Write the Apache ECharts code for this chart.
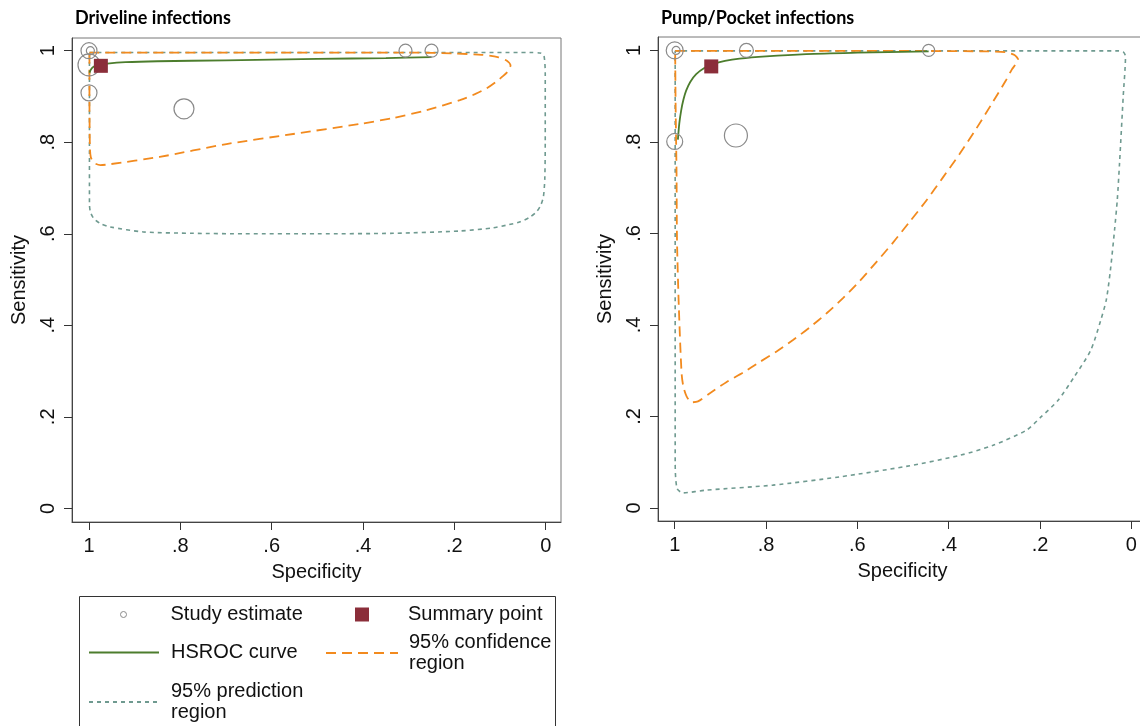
<!DOCTYPE html>
<html>
<head>
<meta charset="utf-8">
<script src="https://cdn.jsdelivr.net/npm/echarts@6/dist/echarts.min.js"></script>
<style>
html,body{margin:0;padding:0;background:#fff;}
#chart{width:1140px;height:726px;}
</style>
</head>
<body>
<div id="chart"></div>
<script>
// ---------- data ----------
const panelTitles = ['Driveline infections', 'Pump/Pocket infections'];
const tickValues = [0, 0.2, 0.4, 0.6, 0.8, 1];
const axisNames = { x: 'Specificity', y: 'Sensitivity' };
const legendNames = ['Study estimate', 'Summary point', 'HSROC curve', '95% confidence region', '95% prediction region'];

// study estimates: [specificity, sensitivity]
const leftStudies = [[1.0,1.0],[0.997,1.0],[1.0,0.969],[1.0,0.908],[0.792,0.873],[0.307,1.0],[0.25,1.0]];
const leftWeights = [16, 8, 22, 16, 20, 13, 13];
const rightStudies = [[1.0,1.0],[0.997,1.0],[0.843,1.0],[0.444,1.0],[1.0,0.801],[0.866,0.814]];
const rightWeights = [17, 8, 14, 12, 16, 23];

// summary points
const leftSummary = [[0.974, 0.967]];
const rightSummary = [[0.92, 0.965]];

// HSROC curves
const leftHsroc = [[0.999,0.952],[0.995,0.960],[0.99,0.965],[0.98,0.969],[0.96,0.972],[0.92,0.975],[0.85,0.977],[0.7,0.979],[0.5,0.982],[0.35,0.984],[0.25,0.986]];
const rightHsroc = [[0.993,0.805],[0.99,0.84],[0.986,0.868],[0.981,0.892],[0.975,0.912],[0.966,0.931],[0.953,0.948],[0.936,0.961],[0.916,0.970],[0.89,0.977],[0.858,0.982],[0.8,0.987],[0.712,0.992],[0.6,0.995],[0.444,0.998]];

// 95% confidence regions (closed)
const leftConf = [[0.999,0.996],[0.6,0.996],[0.3,0.996],[0.2,0.994],[0.14,0.991],[0.105,0.986],[0.085,0.978],[0.077,0.968],[0.082,0.956],[0.093,0.945],[0.11,0.931],[0.129,0.918],[0.155,0.905],[0.188,0.892],[0.261,0.870],[0.334,0.853],[0.407,0.840],[0.553,0.818],[0.699,0.796],[0.845,0.768],[0.954,0.752],[0.975,0.750],[0.989,0.755],[0.996,0.767],[0.998,0.79],[0.999,0.9],[0.999,0.996]];
const rightConf = [[0.999,0.999],[0.6,0.999],[0.32,0.998],[0.275,0.996],[0.256,0.99],[0.248,0.98],[0.262,0.958],[0.274,0.936],[0.303,0.888],[0.339,0.830],[0.376,0.774],[0.413,0.722],[0.449,0.672],[0.486,0.625],[0.522,0.580],[0.558,0.538],[0.595,0.496],[0.631,0.459],[0.668,0.425],[0.704,0.395],[0.741,0.367],[0.777,0.342],[0.814,0.319],[0.850,0.296],[0.887,0.275],[0.923,0.251],[0.949,0.233],[0.963,0.231],[0.974,0.244],[0.981,0.265],[0.985,0.295],[0.991,0.440],[0.995,0.586],[0.996,0.732],[0.998,0.878],[0.999,0.999]];

// 95% prediction regions (closed)
const leftPred = [[0.999,0.996],[0.5,0.996],[0.03,0.996],[0.012,0.995],[0.004,0.99],[0.001,0.95],[0.001,0.8],[0.002,0.72],[0.005,0.681],[0.011,0.662],[0.020,0.648],[0.035,0.636],[0.056,0.626],[0.085,0.619],[0.115,0.613],[0.188,0.606],[0.334,0.601],[0.5,0.600],[0.66,0.600],[0.772,0.601],[0.881,0.604],[0.954,0.615],[0.976,0.623],[0.99,0.634],[0.997,0.648],[0.999,0.665],[0.999,0.8],[0.999,0.996]];
const rightPred = [[0.999,0.999],[0.5,0.999],[0.03,0.999],[0.018,0.997],[0.013,0.987],[0.018,0.899],[0.026,0.754],[0.031,0.673],[0.037,0.607],[0.046,0.520],[0.055,0.455],[0.067,0.411],[0.089,0.345],[0.125,0.287],[0.161,0.235],[0.198,0.199],[0.230,0.170],[0.303,0.137],[0.376,0.115],[0.493,0.091],[0.639,0.068],[0.785,0.050],[0.931,0.039],[0.982,0.033],[0.995,0.043],[0.999,0.1],[0.999,0.999]];

// ---------- styles ----------
const FONT = '"Liberation Sans", Arial, sans-serif';
const C_STUDY = '#8a8a8a';
const C_SUM = '#8B2E3A';
const C_HSROC = '#4c7d2d';
const C_CONF = '#F28A1E';
const C_PRED = '#6F9A90';

function fmt(v) {
  if (v === 0) return '0';
  if (v === 1) return '1';
  return String(Math.round(v * 10) / 10).replace(/^0/, '');
}

function xAxis(idx) {
  return {
    type: 'value', gridIndex: idx, inverse: true,
    min: idx === 0 ? -0.0335 : -0.0341, max: idx === 0 ? 1.0372 : 1.0366,
    name: axisNames.x, nameLocation: 'middle', nameGap: 40,
    nameTextStyle: { fontFamily: FONT, fontSize: 20, color: '#111' },
    axisLine: { show: true, onZero: false, lineStyle: { color: '#444', width: 1 } },
    axisTick: { show: true, length: 8, inside: false, customValues: tickValues, lineStyle: { color: '#333' } },
    axisLabel: { customValues: tickValues, formatter: fmt, margin: 14, fontFamily: FONT, fontSize: 20, color: '#111' },
    splitLine: { show: false }
  };
}
function yAxis(idx) {
  return {
    type: 'value', gridIndex: idx,
    min: idx === 0 ? -0.0299 : -0.0284, max: idx === 0 ? 1.0278 : 1.0293,
    name: axisNames.y, nameLocation: 'middle', nameGap: 43,
    nameTextStyle: { fontFamily: FONT, fontSize: 20, color: '#111' },
    axisLine: { show: true, onZero: false, lineStyle: { color: '#444', width: 1 } },
    axisTick: { show: true, length: 8, inside: false, customValues: tickValues, lineStyle: { color: '#333' } },
    axisLabel: { customValues: tickValues, formatter: fmt, rotate: 90, margin: 14, fontFamily: FONT, fontSize: 20, color: '#111' },
    splitLine: { show: false }
  };
}

function panelSeries(idx, studies, weights, summary, hsroc, conf, pred) {
  return [
    { name: legendNames[4], type: 'line', xAxisIndex: idx, yAxisIndex: idx, data: pred, symbol: 'none', smooth: 0.25,
      lineStyle: { color: C_PRED, width: 1.6, type: [4, 4] }, itemStyle: { color: C_PRED }, z: 2 },
    { name: legendNames[3], type: 'line', xAxisIndex: idx, yAxisIndex: idx, data: conf, symbol: 'none', smooth: 0.25,
      lineStyle: { color: C_CONF, width: 1.8, type: [10, 6] }, itemStyle: { color: C_CONF }, z: 3 },
    { name: legendNames[2], type: 'line', xAxisIndex: idx, yAxisIndex: idx, data: hsroc, symbol: 'none', smooth: 0.3,
      lineStyle: { color: C_HSROC, width: 1.8 }, itemStyle: { color: C_HSROC }, z: 4 },
    { name: legendNames[0], type: 'scatter', xAxisIndex: idx, yAxisIndex: idx,
      data: studies.map((p, i) => [p[0], p[1], weights[i]]),
      symbol: 'circle', symbolSize: d => d[2],
      itemStyle: { color: 'rgba(0,0,0,0)', borderColor: C_STUDY, borderWidth: 1.2, opacity: 1 }, z: 5 },
    { name: legendNames[1], type: 'scatter', xAxisIndex: idx, yAxisIndex: idx, data: summary,
      symbol: 'rect', symbolSize: 14, itemStyle: { color: C_SUM, opacity: 1 }, z: 6 }
  ];
}

const legendText = { fontFamily: FONT, fontSize: 20, color: '#111', lineHeight: 21 };
function legendFor(name, opts) {
  return Object.assign({
    show: true, orient: 'vertical', selectedMode: false, padding: 0,
    data: [{ name: name, itemStyle: { opacity: 0 } }],
    formatter: n => n.replace(' region', '\nregion')
  }, opts);
}

const titleStyle = { fontFamily: 'Lato, "Open Sans", sans-serif', fontWeight: 'bold', fontSize: 18, color: '#000' };

const option = {
  animation: false,
  backgroundColor: '#fff',
  title: [
    { text: panelTitles[0], left: 75, top: 9, padding: 0, textStyle: titleStyle },
    { text: panelTitles[1], left: 661, top: 9, padding: 0, textStyle: titleStyle }
  ],
  grid: [
    { left: 72, top: 38, width: 489, height: 484, show: true, borderColor: '#777', borderWidth: 1, containLabel: false, outerBoundsMode: 'none' },
    { left: 658, top: 37, width: 489, height: 484, show: true, borderColor: '#777', borderWidth: 1, containLabel: false, outerBoundsMode: 'none' }
  ],
  xAxis: [xAxis(0), xAxis(1)],
  yAxis: [yAxis(0), yAxis(1)],
  legend: [
    legendFor(legendNames[0], { left: 120, top: 604, itemWidth: 6, itemHeight: 6,
      data: [{ name: legendNames[0], icon: 'circle', itemStyle: { color: 'rgba(0,0,0,0)', borderColor: C_STUDY, borderWidth: 1, opacity: 1 } }],
      textStyle: Object.assign({ padding: [0, 0, 0, 39] }, legendText) }),
    legendFor(legendNames[1], { left: 355, top: 604, itemWidth: 14, itemHeight: 14,
      data: [{ name: legendNames[1], icon: 'rect', itemStyle: { color: C_SUM, opacity: 1 } }],
      textStyle: Object.assign({ padding: [0, 0, 0, 34] }, legendText) }),
    legendFor(legendNames[2], { left: 88, top: 642, itemWidth: 70, itemHeight: 14,
      textStyle: Object.assign({ padding: [0, 0, 0, 7] }, legendText) }),
    legendFor(legendNames[3], { left: 325, top: 632, itemWidth: 72, itemHeight: 14,
      textStyle: Object.assign({ padding: [0, 0, 0, 6] }, legendText) }),
    legendFor(legendNames[4], { left: 88, top: 681, itemWidth: 68, itemHeight: 14,
      textStyle: Object.assign({ padding: [0, 0, 0, 9] }, legendText) })
  ],
  graphic: [
    { type: 'rect', silent: true, shape: { x: 79.5, y: 596.5, width: 476, height: 200 },
      style: { fill: 'none', stroke: '#333', lineWidth: 1 } }
  ],
  series: [].concat(
    panelSeries(0, leftStudies, leftWeights, leftSummary, leftHsroc, leftConf, leftPred),
    panelSeries(1, rightStudies, rightWeights, rightSummary, rightHsroc, rightConf, rightPred)
  )
};

const chart = echarts.init(document.getElementById('chart'), null, { renderer: 'canvas' });
chart.setOption(option);
</script>
</body>
</html>
